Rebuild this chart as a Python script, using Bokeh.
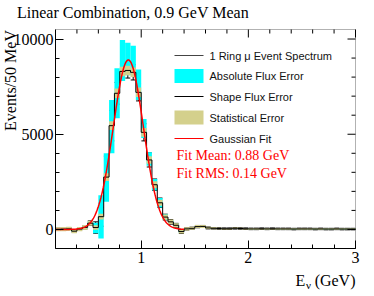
import numpy as np
from bokeh.plotting import figure
from bokeh.models import (ColumnDataSource, Range1d, FixedTicker, Label,
                          BoxAnnotation, Whisker, TeeHead)
from bokeh.embed import file_html
from bokeh.resources import INLINE

# ---------------- data ----------------
bin_left = [0.20, 0.25, 0.30, 0.35, 0.40, 0.45, 0.50, 0.55, 0.60, 0.65,
            0.70, 0.75, 0.80, 0.85, 0.90, 0.95, 1.00, 1.05, 1.10, 1.15,
            1.20, 1.25, 1.30, 1.35, 1.40, 1.45, 1.50, 1.55, 1.60, 1.65,
            1.70, 1.75, 1.80, 1.85, 1.90, 1.95, 2.00, 2.05, 2.10, 2.15,
            2.20, 2.25, 2.30, 2.35, 2.40, 2.45, 2.50, 2.55, 2.60, 2.65,
            2.70, 2.75, 2.80, 2.85, 2.90, 2.95]
bin_width = 0.05
counts = [10, 20, 30, -90, 20, 110, 330, 100, 670, 2750,
          5450, 7150, 8300, 8350, 8250, 7200, 5100, 3650, 2350, 1400,
          650, 400, 220, -110, 30, 60, 150, 160, 80, 60,
          50, 40, 40, 60, 50, 40, 30, 30, 40, 30,
          40, 30, 30, 30, 20, 30, 30, 30, 20, 30,
          20, 20, 30, 20, 20, 20]
abs_up = [20, 20, 30, 40, 40, 60, 100, 250, 1130, 1250,
          1350, 1320, 1650, 1450, 1400, 1200, 700, 400, 300, 250,
          150, 100, 80, 60, 20, 20, 20, 20, 20, 20,
          20, 20, 20, 20, 20, 20, 20, 20, 20, 20,
          20, 20, 20, 20, 20, 20, 20, 20, 20, 20,
          20, 20, 20, 20, 20, 20]
abs_dn = [20, 20, 30, 40, 40, 60, 100, 300, 1140, 1290,
          1450, 1310, 500, 250, 150, 400, 300, 300, 300, 250,
          150, 100, 80, 60, 20, 20, 20, 20, 20, 20,
          20, 20, 20, 20, 20, 20, 20, 20, 20, 20,
          20, 20, 20, 20, 20, 20, 20, 20, 20, 20,
          20, 20, 20, 20, 20, 20]
stat_err = [110, 110, 110, 110, 110, 120, 130, 120, 150, 200,
            230, 250, 250, 250, 250, 250, 230, 200, 180, 160,
            140, 120, 110, 100, 80, 80, 80, 80, 60, 50,
            40, 40, 40, 40, 40, 40, 40, 40, 40, 40,
            40, 40, 40, 40, 40, 40, 40, 40, 40, 40,
            40, 40, 40, 40, 40, 40]
shape_err = [60, 60, 60, 60, 60, 80, 120, 300, 500, 1100,
             800, 570, 400, 400, 400, 450, 450, 370, 300, 250,
             150, 120, 100, 100, 60, 60, 60, 50, 50, 40,
             40, 40, 40, 40, 40, 40, 40, 40, 40, 40,
             40, 40, 40, 40, 40, 40, 40, 40, 40, 40,
             40, 40, 40, 40, 40, 40]
fit_mean = 0.88
fit_rms = 0.14
fit_amp = 8900
fit_lo, fit_hi = 0.2, 1.4

x_min, x_max = 0.2, 3.0
y_min, y_max = -1000, 10500
x_major = [1, 2, 3]
x_minor = [0.4, 0.6, 0.8, 1.2, 1.4, 1.6, 1.8, 2.2, 2.4, 2.6, 2.8]
y_major = [0, 5000, 10000]
y_minor = [-1000, 1000, 2000, 3000, 4000, 6000, 7000, 8000, 9000]

title_text = "Linear Combination, 0.9 GeV Mean"
y_label = "Events/50 MeV"
legend_labels = ["1 Ring \u03bc Event Spectrum", "Absolute Flux Error",
                 "Shape Flux Error", "Statistical Error", "Gaussian Fit"]
fit_texts = ["Fit Mean: 0.88 GeV", "Fit RMS: 0.14 GeV"]

# ---------------- styles / layout ----------------
CYAN = "#00ffff"
TAN = "#d4d08c"
RED = "#ff0000"
SERIF = "Liberation Serif"
SANS = "Liberation Sans"
W, H = 366, 290
FL, FR, FT, FB = 55, 355, 29, 248          # data-frame edges in canvas pixels
MAJ, MIN = 8, 4                            # tick lengths, px

# the plotting frame covers the whole canvas; the data box sits at FL..FR, FT..FB
ppx = (x_max - x_min) / (FR - FL)          # data units per pixel
ppy = (y_max - y_min) / (FB - FT)
xr = Range1d(x_min - FL * ppx, x_max + (W - FR) * ppx)
yr = Range1d(y_min - (H - FB) * ppy, y_max + FT * ppy)

left = np.array(bin_left)
right = left + bin_width
cnt = np.array(counts, dtype=float)

p = figure(width=W, height=H, x_range=xr, y_range=yr,
           output_backend="svg", toolbar_location=None,
           min_border_left=0, min_border_right=0, min_border_top=0, min_border_bottom=0)
p.xgrid.visible = False
p.ygrid.visible = False
p.outline_line_color = None
p.background_fill_color = "white"
p.border_fill_color = "white"

# absolute flux error boxes
p.quad(left=left, right=right, bottom=cnt - np.array(abs_dn), top=cnt + np.array(abs_up),
       fill_color=CYAN, line_color=None)
# statistical error boxes
p.quad(left=left, right=right, bottom=cnt - np.array(stat_err), top=cnt + np.array(stat_err),
       fill_color=TAN, line_color=None)
# histogram step
xs = list(left) + [right[-1]]
ys = list(cnt) + [cnt[-1]]
p.step(xs, ys, mode="after", line_color="black", line_width=1)
# shape flux error bars
src = ColumnDataSource(dict(x=left + bin_width / 2, upper=cnt + np.array(shape_err),
                            lower=cnt - np.array(shape_err)))
p.add_layout(Whisker(source=src, base="x", upper="upper", lower="lower", line_color="black",
                     line_width=1,
                     upper_head=TeeHead(size=5, line_color="black", line_width=1),
                     lower_head=TeeHead(size=5, line_color="black", line_width=1)))
# Gaussian fit
fx = np.linspace(fit_lo, fit_hi, 241)
fy = fit_amp * np.exp(-0.5 * ((fx - fit_mean) / fit_rms) ** 2)
p.line(fx, fy, line_color=RED, line_width=1.5)

# frame box
p.add_layout(BoxAnnotation(left=x_min, right=x_max, bottom=y_min, top=y_max,
                           fill_alpha=0, line_color="black", line_width=1, level="overlay"))

# axes (left / bottom) pinned to the data box, ticks inside
p.xaxis[0].fixed_location = y_min
p.yaxis[0].fixed_location = x_min
p.xaxis[0].bounds = (x_min, x_max)
p.yaxis[0].bounds = (y_min, y_max)
for ax, ticks, minor in ((p.xaxis[0], x_major, x_minor), (p.yaxis[0], y_major, y_minor)):
    ax.ticker = FixedTicker(ticks=ticks, minor_ticks=minor)
    ax.axis_line_color = "black"
    ax.major_tick_line_color = "black"
    ax.minor_tick_line_color = "black"
    ax.major_tick_in = MAJ
    ax.major_tick_out = 0
    ax.minor_tick_in = MIN
    ax.minor_tick_out = 0
    ax.major_label_text_font = SERIF
    ax.major_label_text_font_size = "16px"
    ax.major_label_text_color = "black"
p.yaxis[0].major_label_standoff = 2
p.xaxis[0].major_label_standoff = 3

# mirrored ticks on the top and right edges
tx = x_major + x_minor
tlen_x = [MAJ * ppy if t in x_major else MIN * ppy for t in tx]
p.segment(x0=tx, x1=tx, y0=[y_max] * len(tx), y1=[y_max - l for l in tlen_x],
          line_color="black", line_width=1)
ty = y_major + y_minor
tlen_y = [MAJ * ppx if t in y_major else MIN * ppx for t in ty]
p.segment(x0=[x_max] * len(ty), x1=[x_max - l for l in tlen_y], y0=ty, y1=ty,
          line_color="black", line_width=1)

# ---------------- texts (screen coords, canvas bottom-left origin) ----
def lab(px, py, text, font, size, color="black", align="left", angle=0.0):
    p.add_layout(Label(x=px, y=H - py, x_units="screen", y_units="screen", text=text,
                       text_font=font, text_font_size=size, text_baseline="middle",
                       text_align=align, text_color=color, angle=angle))

lab(16.5, 12, title_text, SERIF, "16px")
lab(10, 80, y_label, SERIF, "16px", align="center", angle=np.pi / 2)
lab(295, 280, "E", SERIF, "16px")
lab(305.5, 284, "\u03bd", SERIF, "11px")
lab(355, 280, "(GeV)", SERIF, "16px", align="right")

# legend
LX0, LX1, TX = 174, 203, 209
leg_y = [55, 75.5, 96, 117, 138]
def hbox(x0, x1, y0, y1, color):
    p.add_layout(BoxAnnotation(left=x0, right=x1, top=H - y0, bottom=H - y1,
                               left_units="screen", right_units="screen",
                               top_units="screen", bottom_units="screen",
                               fill_color=color, fill_alpha=1, line_color=None))
hbox(LX0, LX1, leg_y[0] - 0.5, leg_y[0] + 0.5, "#444444")
hbox(LX0, LX1, 68.5, 82.5, CYAN)
hbox(LX0, LX1, leg_y[2] - 0.5, leg_y[2] + 0.5, "black")
hbox(LX0, LX1, 110, 124, TAN)
hbox(LX0, LX1, leg_y[4] - 0.5, leg_y[4] + 0.5, RED)
for t, yy in zip(legend_labels, leg_y):
    lab(TX, yy, t, SANS, "11px", color="#111111")
for t, yy in zip(fit_texts, [155, 172.5]):
    lab(176, yy, t, SERIF, "14px", color=RED)

open("out.html", "w").write(file_html(p, INLINE))
